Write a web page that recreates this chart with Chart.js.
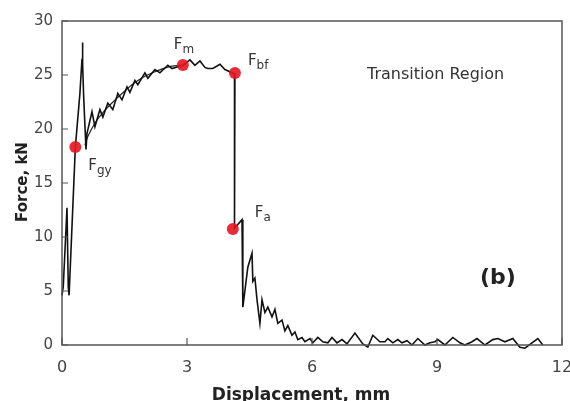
<!DOCTYPE html>
<html>
<head>
<meta charset="utf-8">
<script src="https://cdn.jsdelivr.net/npm/chart.js@4"></script>
<style>
html,body{margin:0;padding:0;background:#fff;}
#wrap{width:570px;height:401px;position:relative;}
</style>
</head>
<body>
<div id="wrap"><canvas id="c" width="570" height="401"></canvas></div>
<script>
// ---- data ----
const dispRaw = [0.00,0.03,0.12,0.15,0.17,0.32,0.43,0.48,0.49,0.50,0.52,0.576,0.60,0.72,0.79,0.91,0.98,1.10,1.22,1.34,1.44,1.56,1.63,1.75,1.82,1.99,2.06,2.23,2.35,2.54,2.64,2.90,3.07,3.19,3.31,3.43,3.50,3.62,3.79,3.91,4.15,4.14,4.32,4.34,4.46,4.56,4.58,4.63,4.68,4.75,4.80,4.87,4.94,5.04,5.11,5.18,5.28,5.35,5.42,5.52,5.59,5.66,5.76,5.83,5.95,6.02,6.14,6.26,6.38,6.48,6.60,6.72,6.84,7.03,7.22,7.34,7.46,7.63,7.75,7.82,7.94,8.06,8.16,8.28,8.40,8.54,8.71,8.83,8.95,9.02,9.19,9.38,9.55,9.67,9.84,9.96,10.15,10.34,10.46,10.63,10.82,10.99,11.11,11.28,11.42,11.54];
const forceRaw = [4.6,5.4,12.7,5.4,4.6,18.3,23.3,26.5,28.0,26.0,23.0,18.1,19.6,21.6,20.2,21.8,21.1,22.4,21.8,23.3,22.7,23.9,23.4,24.5,24.1,25.2,24.7,25.5,25.2,25.9,25.6,25.9,26.4,25.9,26.3,25.7,25.6,25.6,26.0,25.5,25.1,10.8,11.6,3.5,7.2,8.5,5.9,6.2,4.2,2.0,4.2,3.0,3.5,2.6,3.3,2.0,2.3,1.3,1.8,0.9,1.2,0.5,0.7,0.3,0.6,0.2,0.7,0.3,0.2,0.7,0.2,0.5,0.1,1.1,0.1,-0.2,0.9,0.3,0.3,0.6,0.2,0.5,0.2,0.4,0.0,0.6,0.0,0.2,0.3,0.5,0.0,0.7,0.2,0.0,0.3,0.6,0.0,0.5,0.6,0.3,0.6,-0.2,-0.3,0.2,0.6,0.0];
const dispFit = [0.55,0.62,0.80,1.00,1.25,1.50,1.75,2.00,2.30,2.60,2.90];
const forceFit = [18.5,19.3,20.6,21.6,22.6,23.5,24.3,24.9,25.4,25.8,25.9];
const markerDisp = [0.32,2.90,4.15,4.10];
const markerForce = [18.33,25.93,25.19,10.74];
const markerMain = ["F","F","F","F"];
const markerSub = ["gy","m","bf","a"];
const xTicks = [0,3,6,9,12];
const yTicks = [0,5,10,15,20,25,30];
const xTitle = "Displacement, mm";
const yTitle = "Force, kN";
const regionNote = "Transition Region";
const panelTag = "(b)";

const toPts = (xs, ys) => xs.map((x,i)=>({x:x,y:ys[i]}));

// label offsets relative to marker pixel (style, not data)
const labelOffsets = [[13,23],[-9,-16],[13,-8],[22,-12]];

const FONT = "'DejaVu Sans', Verdana, sans-serif";

const boxPlugin = {
  id:'boxAndText',
  afterDraw(chart){
    const ctx = chart.ctx;
    const a = chart.chartArea;
    const xs = chart.scales.x, ys = chart.scales.y;
    ctx.save();
    ctx.strokeStyle = '#555';
    ctx.lineWidth = 1.5;
    ctx.strokeRect(a.left, a.top, a.right-a.left, a.bottom-a.top);
    ctx.lineWidth = 1.2;
    ctx.beginPath();
    xs.ticks.forEach(t=>{
      const p = xs.getPixelForValue(t.value);
      ctx.moveTo(p, a.bottom); ctx.lineTo(p, a.bottom-7);
    });
    ys.ticks.forEach(t=>{
      const p = ys.getPixelForValue(t.value);
      ctx.moveTo(a.left, p); ctx.lineTo(a.left+6, p);
    });
    ctx.stroke();

    // marker labels
    ctx.fillStyle = '#333';
    ctx.textBaseline = 'alphabetic';
    markerDisp.forEach((d,i)=>{
      const px = xs.getPixelForValue(d) + labelOffsets[i][0];
      const py = ys.getPixelForValue(markerForce[i]) + labelOffsets[i][1];
      ctx.font = "15px " + FONT;
      ctx.textAlign = 'left';
      ctx.fillText(markerMain[i], px, py);
      const w = ctx.measureText(markerMain[i]).width;
      ctx.font = "12px " + FONT;
      ctx.fillText(markerSub[i], px + w, py + 4);
    });

    // annotations
    ctx.font = "16px " + FONT;
    ctx.fillStyle = '#333';
    ctx.textAlign = 'left';
    ctx.fillText(regionNote, 367, 79);
    ctx.font = "bold 22px " + FONT;
    ctx.fillStyle = '#222';
    ctx.fillText(panelTag, 480, 284);

    // axis titles
    ctx.font = "bold 17px " + FONT;
    ctx.fillStyle = '#222';
    ctx.textAlign = 'center';
    ctx.fillText(xTitle, 301, 400);
    ctx.save();
    ctx.translate(27, 182);
    ctx.rotate(-Math.PI/2);
    ctx.font = "bold 15px " + FONT;
    ctx.fillText(yTitle, 0, 0);
    ctx.restore();
    ctx.restore();
  }
};

function noPad(s){ s.paddingLeft = 0; s.paddingRight = 0; s.paddingTop = 0; s.paddingBottom = 0; }

new Chart(document.getElementById('c'), {
  type:'scatter',
  data:{
    datasets:[
      {data:toPts(dispRaw, forceRaw), showLine:true, borderColor:'#111', borderWidth:1.6, pointRadius:0, tension:0, clip:6, order:2},
      {data:toPts(dispFit, forceFit), showLine:true, borderColor:'#222', borderWidth:1.2, pointRadius:0, tension:0.4, order:3},
      {data:toPts(markerDisp, markerForce), showLine:false, pointRadius:6, pointBackgroundColor:'rgba(230,20,30,0.9)', pointBorderColor:'rgba(230,20,30,0.9)', pointBorderWidth:0, order:1}
    ]
  },
  options:{
    responsive:false,
    animation:false,
    devicePixelRatio:1,
    layout:{padding:{left:0,top:21,right:8,bottom:0}},
    plugins:{legend:{display:false}, tooltip:{enabled:false}},
    scales:{
      x:{
        type:'linear', min:0, max:12,
        afterBuildTicks(s){ s.ticks = xTicks.map(v=>({value:v})); },
        afterFit(s){ s.height = 56; noPad(s); },
        grid:{display:false, drawTicks:false},
        border:{display:false},
        ticks:{padding:13, color:'#444', font:{size:16, family:FONT}, maxRotation:0}
      },
      y:{
        type:'linear', min:0, max:30,
        afterBuildTicks(s){ s.ticks = yTicks.map(v=>({value:v})); },
        afterFit(s){ s.width = 62; noPad(s); },
        grid:{display:false, drawTicks:false},
        border:{display:false},
        ticks:{padding:9, color:'#444', font:{size:15, family:FONT}}
      }
    }
  },
  plugins:[boxPlugin]
});
</script>
</body>
</html>
